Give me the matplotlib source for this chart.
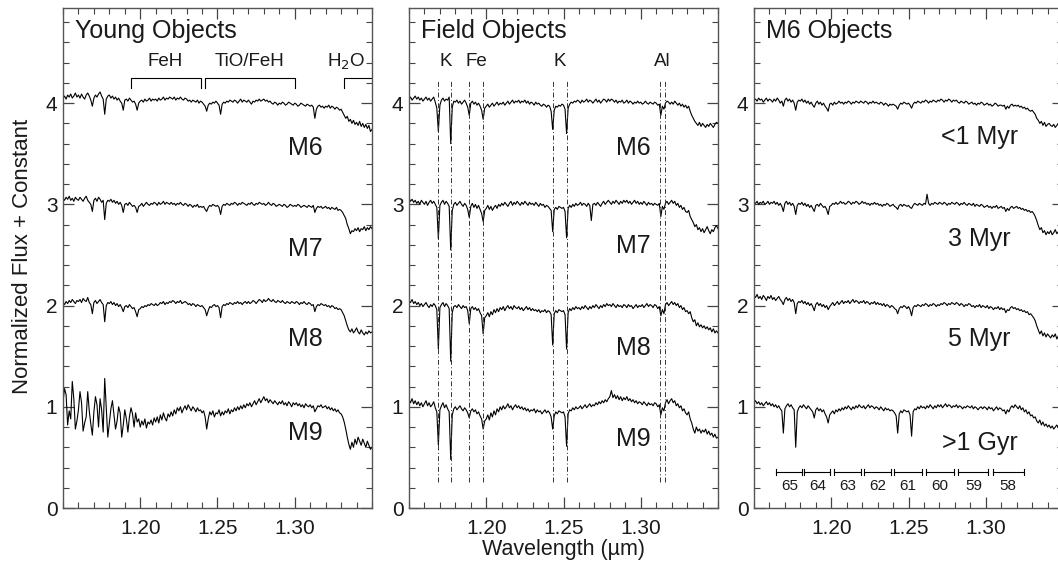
import matplotlib.pyplot as plt
import numpy as np
from matplotlib.ticker import MultipleLocator

plt.rcParams['font.family'] = ['Liberation Sans', 'DejaVu Sans']

# spectra sampled every 0.001 um from 1.150 to 1.350, flux in percent of continuum
wl_start = 1.150
wl_step = 0.001

young_m6 = [
    105, 107, 104, 108, 106, 109, 105, 107, 110, 106,
    108, 105, 109, 106, 104, 108, 110, 107, 103, 97,
    105, 108, 106, 109, 111, 107, 104, 89, 104, 107,
    108, 105, 107, 104, 106, 103, 105, 102, 100, 93,
    103, 104, 102, 105, 103, 101, 102, 99, 93, 100,
    102, 103, 101, 104, 102, 103, 105, 102, 104, 103,
    104, 102, 105, 103, 104, 106, 103, 105, 104, 106,
    105, 104, 106, 103, 105, 104, 106, 104, 103, 105,
    104, 102, 103, 101, 103, 102, 101, 103, 100, 102,
    101, 99, 97, 92, 98, 100, 99, 101, 100, 102,
    100, 98, 89, 99, 101, 100, 102, 101, 103, 102,
    101, 103, 102, 100, 102, 104, 101, 103, 102, 101,
    103, 101, 99, 102, 101, 103, 102, 104, 102, 103,
    104, 102, 103, 101, 102, 100, 99, 101, 100, 98,
    100, 99, 101, 100, 98, 99, 101, 100, 99, 98,
    100, 99, 97, 98, 100, 99, 98, 97, 99, 98,
    97, 98, 96, 85, 94, 97, 98, 96, 97, 95,
    97, 96, 98, 95, 97, 96, 94, 96, 95, 93,
    94, 91, 88, 85, 87, 82, 84, 80, 83, 79,
    81, 78, 82, 77, 80, 76, 79, 75, 78, 72,
    74]
young_m7 = [
    106, 104, 107, 105, 108, 104, 106, 103, 107, 105,
    104, 107, 105, 103, 106, 108, 104, 102, 100, 93,
    104, 106, 103, 107, 105, 102, 104, 85, 101, 104,
    103, 105, 102, 104, 101, 103, 100, 102, 99, 92,
    100, 101, 99, 102, 100, 98, 99, 97, 92, 98,
    99, 101, 98, 100, 102, 100, 99, 101, 100, 102,
    101, 99, 102, 100, 101, 103, 100, 102, 101, 100,
    102, 100, 101, 99, 101, 100, 102, 100, 99, 101,
    100, 98, 100, 99, 97, 99, 98, 100, 97, 98,
    97, 98, 95, 93, 97, 99, 98, 100, 99, 98,
    99, 97, 90, 98, 100, 99, 101, 100, 99, 101,
    100, 102, 101, 99, 101, 100, 102, 101, 100, 99,
    101, 100, 102, 100, 99, 101, 100, 102, 101, 100,
    101, 99, 100, 102, 100, 99, 101, 100, 98, 99,
    100, 99, 98, 100, 99, 97, 98, 100, 99, 98,
    99, 98, 100, 99, 97, 98, 99, 98, 97, 99,
    98, 97, 99, 92, 96, 98, 97, 98, 96, 97,
    98, 96, 97, 95, 97, 96, 95, 97, 94, 95,
    94, 92, 89, 86, 80, 76, 71, 74, 73, 76,
    74, 77, 73, 76, 75, 78, 74, 77, 75, 78,
    76]
young_m8 = [
    103, 101, 104, 102, 105, 103, 106, 104, 102, 105,
    104, 106, 103, 107, 105, 104, 108, 103, 101, 92,
    103, 105, 102, 104, 106, 103, 101, 84, 100, 103,
    102, 104, 101, 103, 100, 102, 99, 101, 98, 94,
    99, 100, 98, 101, 99, 97, 98, 94, 89, 96,
    97, 99, 98, 100, 99, 101, 100, 102, 101, 100,
    102, 100, 101, 103, 102, 104, 101, 103, 102, 104,
    103, 105, 104, 102, 104, 103, 105, 102, 103, 104,
    103, 101, 102, 100, 102, 101, 99, 101, 100, 99,
    100, 98, 96, 90, 95, 99, 98, 100, 101, 99,
    100, 98, 88, 99, 101, 100, 102, 101, 103, 102,
    101, 103, 102, 104, 102, 103, 101, 103, 104, 102,
    104, 102, 103, 105, 104, 102, 104, 106, 105, 103,
    106, 104, 105, 107, 105, 104, 106, 104, 103, 105,
    104, 103, 105, 103, 102, 104, 103, 102, 104, 103,
    102, 104, 103, 101, 103, 102, 104, 102, 101, 103,
    102, 100, 101, 94, 99, 101, 100, 102, 101, 100,
    101, 99, 100, 98, 100, 99, 97, 98, 96, 97,
    96, 93, 90, 85, 80, 76, 74, 77, 73, 75,
    78, 74, 72, 76, 73, 71, 74, 72, 75, 73,
    74]
young_m9 = [
    105, 118, 112, 82, 96, 88, 125, 108, 78, 86,
    97, 115, 104, 76, 84, 90, 115, 96, 83, 72,
    95, 110, 102, 80, 108, 97, 75, 128, 99, 70,
    84, 98, 106, 92, 78, 86, 100, 94, 70, 82,
    97, 88, 75, 90, 99, 93, 80, 94, 85, 88,
    80, 86, 82, 88, 79, 85, 83, 87, 82, 89,
    85, 90, 84, 92, 87, 94, 89, 86, 93, 90,
    95, 91, 97, 93, 99, 96, 100, 94, 98, 101,
    97, 102, 99, 96, 100, 98, 95, 99, 96, 97,
    94, 96, 90, 78, 88, 95, 92, 96, 90, 94,
    93, 97, 91, 95, 92, 96, 94, 98, 93, 97,
    95, 99, 96, 100, 97, 101, 98, 102, 99, 103,
    101, 104, 100, 103, 106, 102, 105, 108, 104, 107,
    110, 106, 108, 104, 107, 105, 103, 106, 104, 102,
    105, 103, 106, 102, 104, 101, 105, 103, 100, 104,
    102, 104, 101, 103, 100, 102, 99, 103, 101, 100,
    102, 99, 101, 95, 98, 101, 100, 102, 99, 100,
    101, 98, 100, 97, 99, 96, 98, 95, 97, 94,
    93, 90, 85, 78, 70, 63, 58, 65, 60, 68,
    63, 70, 66, 62, 68, 64, 60, 66, 62, 58,
    60]

field_m6 = [
    104, 106, 103, 105, 107, 104, 106, 103, 105, 102,
    104, 106, 103, 105, 102, 104, 106, 101, 95, 72,
    98, 103, 105, 102, 104, 103, 106, 60, 96, 102,
    101, 103, 100, 102, 99, 101, 103, 100, 96, 88,
    100, 102, 99, 101, 98, 100, 97, 93, 84, 95,
    97, 99, 96, 98, 100, 97, 99, 101, 98, 100,
    99, 101, 98, 100, 102, 99, 101, 103, 100, 102,
    101, 103, 100, 102, 101, 103, 100, 102, 99, 101,
    100, 98, 101, 99, 100, 98, 97, 99, 98, 96,
    98, 97, 92, 74, 93, 97, 96, 98, 97, 99,
    98, 94, 70, 95, 99, 101, 100, 102, 101, 103,
    102, 100, 103, 101, 102, 104, 101, 103, 102, 100,
    102, 104, 101, 103, 100, 102, 104, 103, 101, 104,
    102, 104, 103, 101, 103, 100, 102, 101, 103, 100,
    101, 103, 100, 102, 101, 99, 101, 100, 102, 100,
    101, 99, 100, 102, 100, 99, 101, 100, 99, 101,
    100, 98, 99, 88, 97, 94, 100, 102, 101, 99,
    101, 99, 102, 100, 98, 100, 97, 99, 96, 98,
    95, 97, 92, 88, 85, 82, 80, 78, 81, 77,
    80, 78, 76, 79, 77, 80, 78, 76, 79, 81,
    80]
field_m7 = [
    106, 103, 105, 102, 104, 101, 103, 100, 104, 102,
    100, 103, 99, 102, 104, 101, 103, 100, 97, 66,
    99, 102, 104, 100, 103, 101, 98, 55, 94, 100,
    102, 99, 101, 103, 100, 98, 101, 99, 95, 87,
    98, 101, 97, 100, 96, 99, 95, 91, 83, 94,
    96, 99, 95, 98, 94, 97, 99, 96, 100, 98,
    101, 99, 102, 100, 98, 101, 103, 99, 102, 100,
    103, 101, 99, 102, 100, 103, 101, 99, 102, 100,
    101, 99, 102, 100, 98, 101, 99, 100, 97, 99,
    98, 96, 94, 73, 95, 97, 95, 98, 97, 96,
    97, 93, 67, 96, 99, 97, 100, 98, 101, 99,
    100, 102, 99, 101, 100, 98, 101, 99, 84, 100,
    101, 99, 102, 100, 98, 101, 103, 100, 102, 104,
    102, 100, 103, 101, 104, 102, 100, 103, 101, 104,
    102, 104, 101, 103, 100, 102, 104, 101, 103, 100,
    102, 100, 103, 101, 99, 102, 100, 101, 99, 101,
    100, 99, 101, 88, 98, 95, 101, 103, 100, 102,
    104, 101, 103, 99, 101, 97, 99, 95, 97, 93,
    92, 94, 88, 85, 82, 78, 80, 75, 77, 73,
    76, 72, 75, 78, 74, 71, 75, 73, 77, 79,
    76]
field_m8 = [
    105, 103, 106, 102, 104, 101, 103, 100, 102, 99,
    101, 103, 100, 98, 101, 99, 102, 100, 96, 57,
    98, 101, 103, 99, 102, 100, 97, 45, 93, 99,
    100, 98, 101, 99, 97, 100, 98, 99, 95, 82,
    97, 99, 96, 98, 95, 97, 93, 90, 72, 88,
    90, 93, 89, 94, 91, 96, 93, 97, 94, 98,
    96, 99, 95, 98, 100, 97, 99, 96, 100, 98,
    97, 99, 96, 98, 95, 97, 99, 96, 98, 95,
    97, 95, 96, 94, 96, 93, 95, 94, 96, 93,
    95, 94, 91, 61, 92, 95, 93, 96, 95, 94,
    95, 91, 57, 93, 97, 95, 98, 96, 99, 97,
    98, 96, 99, 97, 100, 98, 96, 99, 97, 100,
    98, 101, 99, 97, 100, 98, 101, 99, 102, 100,
    101, 99, 102, 100, 98, 101, 99, 100, 98, 101,
    100, 98, 101, 99, 100, 97, 99, 101, 98, 100,
    99, 101, 98, 100, 102, 99, 101, 100, 98, 101,
    100, 97, 99, 90, 96, 92, 101, 103, 100, 102,
    104, 101, 103, 100, 102, 98, 100, 96, 98, 94,
    95, 92, 94, 88, 84, 86, 80, 83, 79, 81,
    78, 80, 77, 79, 76, 78, 74, 77, 73, 75,
    73]
field_m9 = [
    107, 104, 108, 103, 106, 102, 105, 101, 104, 100,
    103, 106, 101, 104, 100, 102, 105, 99, 95, 62,
    97, 101, 104, 99, 102, 98, 95, 48, 92, 98,
    100, 97, 99, 101, 98, 96, 99, 97, 94, 89,
    96, 98, 95, 97, 93, 95, 91, 88, 78, 86,
    88, 92, 87, 94, 90, 96, 92, 98, 95, 100,
    97, 101, 98, 100, 103, 99, 101, 97, 100, 102,
    99, 101, 98, 100, 97, 99, 96, 98, 95, 97,
    96, 98, 94, 97, 95, 96, 93, 95, 97, 94,
    96, 94, 90, 78, 91, 95, 93, 96, 95, 94,
    95, 90, 61, 93, 97, 96, 99, 97, 100, 98,
    99, 101, 98, 100, 102, 99, 101, 103, 100, 102,
    101, 104, 102, 105, 103, 106, 104, 107, 105, 108,
    110, 116, 109, 112, 108, 111, 107, 110, 106, 109,
    107, 110, 106, 108, 105, 107, 104, 106, 103, 105,
    104, 102, 105, 103, 101, 104, 102, 103, 101, 104,
    103, 100, 102, 92, 99, 96, 104, 107, 103, 106,
    108, 104, 106, 101, 103, 99, 101, 96, 98, 94,
    92, 95, 88, 84, 78, 74, 80, 76, 78, 74,
    77, 75, 78, 73, 76, 72, 74, 70, 73, 69,
    70]

m6_1myr = [
    103, 104, 102, 105, 103, 104, 101, 103, 105, 102,
    104, 103, 101, 104, 102, 105, 103, 100, 102, 97,
    103, 105, 102, 104, 101, 103, 100, 93, 101, 103,
    102, 104, 101, 103, 100, 102, 99, 101, 98, 96,
    100, 102, 99, 101, 98, 100, 97, 95, 92, 99,
    100, 98, 101, 99, 100, 102, 100, 101, 99, 101,
    100, 102, 101, 99, 101, 100, 102, 101, 100, 102,
    101, 100, 102, 101, 99, 101, 100, 102, 100, 101,
    100, 99, 101, 100, 98, 100, 99, 97, 99, 98,
    99, 98, 97, 94, 98, 100, 99, 101, 100, 99,
    100, 98, 95, 99, 101, 100, 102, 101, 100, 102,
    101, 103, 102, 100, 102, 101, 103, 102, 101, 103,
    102, 104, 103, 101, 103, 102, 104, 103, 101, 103,
    102, 103, 101, 100, 102, 101, 100, 102, 101, 99,
    100, 101, 99, 100, 98, 100, 99, 101, 100, 98,
    99, 100, 98, 99, 97, 98, 100, 99, 97, 98,
    98, 97, 98, 94, 97, 95, 98, 99, 97, 98,
    97, 98, 96, 97, 95, 96, 94, 95, 93, 92,
    93, 91, 89, 85, 83, 80, 82, 78, 81, 77,
    79, 80, 78, 77, 79, 76, 78, 80, 77, 79,
    78]
m6_3myr = [
    102, 101, 103, 100, 102, 101, 103, 100, 101, 103,
    100, 102, 101, 103, 100, 102, 99, 101, 98, 93,
    101, 103, 100, 102, 99, 101, 98, 90, 99, 101,
    100, 102, 99, 101, 98, 100, 97, 99, 96, 93,
    99, 100, 98, 101, 99, 97, 98, 95, 90, 98,
    99, 101, 100, 102, 100, 101, 103, 101, 102, 100,
    101, 103, 102, 100, 102, 101, 103, 102, 100, 101,
    103, 101, 102, 100, 101, 99, 101, 100, 102, 100,
    101, 99, 100, 98, 100, 99, 101, 100, 98, 99,
    100, 98, 97, 95, 99, 100, 98, 100, 99, 98,
    99, 97, 96, 99, 101, 100, 99, 101, 100, 99,
    101, 100, 110, 101, 99, 101, 100, 102, 101, 100,
    102, 101, 100, 102, 101, 99, 101, 100, 102, 101,
    100, 102, 101, 99, 101, 100, 102, 100, 99, 101,
    100, 99, 101, 98, 100, 99, 98, 100, 99, 97,
    98, 99, 97, 98, 96, 98, 97, 99, 96, 97,
    98, 96, 97, 93, 96, 94, 97, 98, 96, 97,
    98, 96, 97, 95, 96, 94, 95, 93, 94, 92,
    93, 91, 88, 84, 79, 75, 77, 72, 74, 70,
    73, 71, 74, 70, 72, 75, 71, 73, 70, 72,
    71]
m6_5myr = [
    110, 108, 111, 107, 109, 106, 110, 108, 105, 109,
    107, 110, 106, 108, 105, 107, 109, 106, 104, 101,
    106, 108, 105, 107, 104, 106, 103, 92, 102, 104,
    103, 105, 102, 104, 101, 103, 100, 102, 99, 95,
    101, 103, 100, 102, 99, 101, 98, 100, 96, 99,
    101, 103, 100, 102, 104, 101, 103, 105, 102, 104,
    103, 105, 102, 104, 106, 103, 105, 104, 102, 104,
    103, 105, 102, 104, 103, 101, 103, 102, 104, 101,
    103, 101, 102, 100, 102, 99, 101, 100, 98, 100,
    99, 97, 96, 92, 97, 99, 98, 100, 99, 97,
    99, 96, 90, 98, 100, 99, 101, 100, 99, 101,
    100, 102, 101, 99, 101, 100, 102, 101, 99, 101,
    100, 102, 101, 103, 102, 100, 102, 101, 103, 102,
    101, 103, 102, 100, 102, 101, 99, 101, 100, 102,
    101, 99, 100, 98, 100, 99, 101, 98, 100, 99,
    98, 100, 97, 99, 98, 96, 98, 97, 99, 96,
    98, 96, 97, 93, 96, 95, 98, 99, 97, 98,
    96, 97, 95, 96, 94, 95, 93, 94, 91, 92,
    90, 88, 85, 80, 76, 72, 75, 70, 73, 69,
    72, 70, 68, 71, 69, 72, 67, 70, 68, 66,
    68]
m6_1gyr = [
    104, 106, 103, 105, 102, 104, 101, 103, 105, 102,
    104, 101, 103, 100, 102, 99, 101, 98, 96, 74,
    98, 101, 103, 100, 102, 99, 97, 60, 95, 99,
    101, 99, 102, 100, 98, 101, 99, 97, 95, 89,
    97, 99, 96, 98, 95, 97, 93, 90, 84, 92,
    94, 96, 93, 97, 95, 98, 96, 99, 97, 100,
    98, 101, 99, 97, 100, 98, 101, 99, 102, 100,
    99, 101, 98, 100, 102, 99, 101, 100, 98, 100,
    99, 97, 100, 98, 96, 99, 97, 98, 96, 97,
    96, 94, 91, 74, 93, 96, 94, 97, 96, 95,
    96, 92, 71, 95, 98, 97, 100, 98, 101, 99,
    100, 98, 101, 99, 102, 100, 98, 101, 99, 102,
    100, 102, 99, 101, 103, 100, 102, 101, 99, 101,
    100, 102, 99, 101, 100, 98, 100, 99, 101, 100,
    99, 101, 98, 100, 99, 97, 99, 100, 98, 100,
    99, 97, 100, 98, 99, 96, 98, 100, 97, 99,
    98, 96, 97, 93, 97, 95, 99, 101, 99, 102,
    100, 98, 101, 97, 99, 95, 97, 93, 95, 91,
    92, 89, 90, 86, 84, 87, 82, 85, 81, 83,
    80, 82, 79, 81, 78, 80, 82, 79, 81, 80,
    79]

offsets = [3, 2, 1, 0]
young_names = ["M6", "M7", "M8", "M9"]
field_names = ["M6", "M7", "M8", "M9"]
age_names = ["<1 Myr", "3 Myr", "5 Myr", ">1 Gyr"]

# feature bands (panel 1) and atomic lines (panel 2)
bands = [("FeH", 1.1937, 1.2390), ("TiO/FeH", 1.2418, 1.3001), ("H$_2$O", 1.3316, 1.36)]
line_wl = [1.1690, 1.1773, 1.1887, 1.1976, 1.2432, 1.2522, 1.3127, 1.3154]
line_names = ["K", "Fe", "K", "Al"]
line_name_wl = [1.1735, 1.1935, 1.2478, 1.3142]

# echelle orders (panel 3)
order_num = [65, 64, 63, 62, 61, 60, 59, 58]
order_lo = [1.1645, 1.1824, 1.2017, 1.2211, 1.2406, 1.2613, 1.2823, 1.3045]
order_hi = [1.1813, 1.1995, 1.2194, 1.2388, 1.2587, 1.2797, 1.3017, 1.3246]

txt = '#1a1a1a'
fig = plt.figure(figsize=(10.58, 5.67), dpi=100)
W, H = 1058, 567
lefts = [63, 409, 754]
axes = [fig.add_axes([l / W, (H - 508) / H, 309 / W, 500 / H]) for l in lefts]

panels = [
    ("Young Objects", [young_m6, young_m7, young_m8, young_m9], young_names,
     1.2955, [3.56, 2.56, 1.67, 0.74], 'left'),
    ("Field Objects", [field_m6, field_m7, field_m8, field_m9], field_names,
     1.284, [3.56, 2.59, 1.58, 0.68], 'left'),
    ("M6 Objects", [m6_1myr, m6_3myr, m6_5myr, m6_1gyr], age_names,
     1.296, [3.67, 2.66, 1.67, 0.64], 'center'),
]

for ax, (title, spectra, names, lx, ly, ha) in zip(axes, panels):
    for flux, off, name, y in zip(spectra, offsets, names, ly):
        flux = np.array(flux) / 100.0 + off
        wl = wl_start + wl_step * np.arange(len(flux))
        ax.plot(wl, flux, color='black', lw=0.8)
        ax.text(lx, y, name, fontsize=18, ha=ha, va='center', color=txt)
    ax.text(1.158, 4.71, title, fontsize=18, ha='left', va='center', color=txt)
    ax.set_xlim(1.15, 1.35)
    ax.set_ylim(0, 4.94)
    ax.xaxis.set_minor_locator(MultipleLocator(0.01))
    ax.yaxis.set_major_locator(MultipleLocator(1))
    ax.yaxis.set_minor_locator(MultipleLocator(0.2))
    ax.set_xticks([1.20, 1.25, 1.30])
    ax.set_xticklabels(["1.20", "1.25", "1.30"])
    ax.tick_params(which='both', direction='in', top=True, right=True,
                   labelsize=15, labelcolor=txt, color='#444444')
    ax.tick_params(which='major', length=8, width=0.9)
    ax.tick_params(which='minor', length=4, width=0.8)
    ax.tick_params(axis='x', pad=8)
    ax.tick_params(axis='y', pad=4)
    for s in ax.spines.values():
        s.set_color('#555555')
        s.set_linewidth(1.0)

# panel 1: band brackets
ax = axes[0]
for name, lo, hi in bands:
    ax.plot([lo, lo, hi, hi], [4.15, 4.25, 4.25, 4.15], color='black', lw=0.8)
    xc = (lo + hi) / 2 if hi < 1.35 else 1.333
    ax.text(xc, 4.41, name, fontsize=13.5, ha='center', va='center', color=txt)

# panel 2: atomic lines
ax = axes[1]
for w in line_wl:
    ax.plot([w, w], [0.26, 4.24], color='#333333', lw=0.7,
            linestyle=(0, (5, 2.5, 1, 2.5)))
for name, w in zip(line_names, line_name_wl):
    ax.text(w, 4.41, name, fontsize=13.5, ha='center', va='center', color=txt)

# panel 3: echelle orders
ax = axes[2]
for n, lo, hi in zip(order_num, order_lo, order_hi):
    ax.plot([lo, hi], [0.36, 0.36], color='black', lw=0.8)
    ax.plot([lo, lo], [0.33, 0.39], color='black', lw=0.8)
    ax.plot([hi, hi], [0.33, 0.39], color='black', lw=0.8)
    ax.text((lo + hi) / 2, 0.22, str(n), fontsize=11, ha='center', va='center', color=txt)

fig.text(0.021, 0.547, "Normalized Flux + Constant", rotation=90, fontsize=16,
         ha='center', va='center', color=txt)
fig.text(564 / W, 1 - 550 / H, "Wavelength (\u00b5m)", fontsize=15.5,
         ha='center', va='center', color=txt)

fig.savefig('out.png', dpi=100)
